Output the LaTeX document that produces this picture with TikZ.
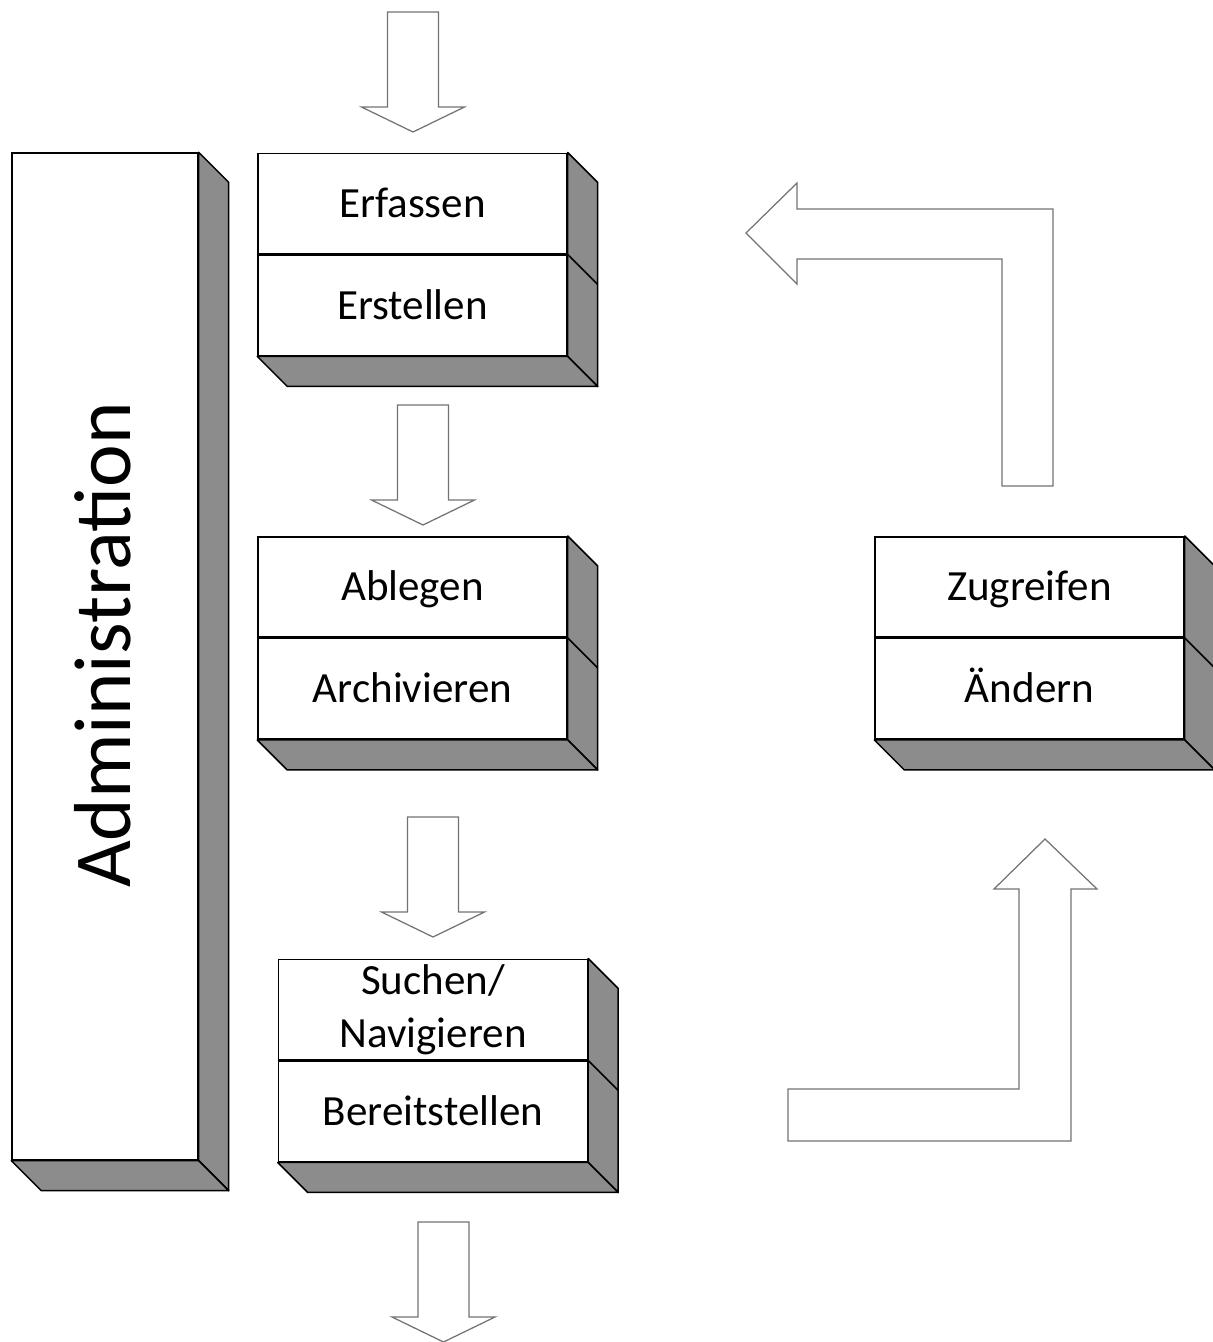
\documentclass[tikz,border=0pt]{standalone}
\usepackage{fontspec}
\setmainfont{Carlito}
\usetikzlibrary{positioning}

\tikzset{
	cell/.style={draw, line width=0.03cm, fill=white, inner sep=0pt,
		minimum width=6.18cm, minimum height=2.01cm,
		font=\fontsize{24.5}{30}\selectfont, text height=15.4pt, text depth=0pt},
	face/.style={draw, line width=0.03cm, fill=black!45, line join=round},
	flow/.style={draw=black!55, line width=0.025cm, fill=white, line join=miter}
}

\begin{document}
\begin{tikzpicture}[x=0.02cm, y=-0.02cm]
		\useasboundingbox (0,0) rectangle (1213,1342);
		% left bar
		\node[cell, minimum width=3.72cm, minimum height=20.14cm] (admin) at (105,656.5) {};
		\node[rotate=90, font=\fontsize{46}{50}\selectfont] (admintext) at (102.5,645) {Administration};
		% boxes
		\node[cell] (erfassen) at (412.5,203.5) {Erfassen};
		\node[cell, below=0pt of erfassen] (erstellen) {Erstellen};
		\node[cell] (ablegen) at (412.5,587) {Ablegen};
		\node[cell, below=0pt of ablegen] (archivieren) {Archivieren};
		\node[cell, text height=, text depth=, align=center] (suchen) at (433,1009.5) {Suchen/\\Navigieren};
		\node[cell, below=0pt of suchen] (bereit) {Bereitstellen};
		\node[cell] (zugreifen) at (1029.5,587) {Zugreifen};
		\node[cell, below=0pt of zugreifen] (aendern) {Ändern};
		\foreach \a/\b in {admin/admin, erfassen/erstellen, ablegen/archivieren, suchen/bereit, zugreifen/aendern}{
			\draw[face] (\a.north east) -- ++(30,30) -- ([shift={(30,30)}]\b.south east) -- (\b.south east) -- cycle;
			\draw[face] (\b.south west) -- ++(30,30) -- ([shift={(30,30)}]\b.south east) -- (\b.south east) -- cycle;
			\draw[line width=0.03cm] (\a.south east) -- ++(30,30);
		}
		% down arrows
		\foreach \x/\y in {413/12, 423/405, 433/817, 443.5/1222}{
			\draw[flow] (\x-25.5,\y) -- (\x+25.5,\y) -- (\x+25.5,\y+95) -- (\x+51.5,\y+95)
				-- (\x,\y+120) -- (\x-51.5,\y+95) -- (\x-25.5,\y+95) -- cycle;
		}
		% back to the top
		\draw[flow] (746,233) -- (797,183) -- (797,209) -- (1053,209) -- (1053,486)
			-- (1002,486) -- (1002,259) -- (797,259) -- (797,284) -- cycle;
		% up to zugreifen
		\draw[flow] (1045,839) -- (1097,889) -- (1071,889) -- (1071,1141) -- (788,1141)
			-- (788,1089) -- (1019,1089) -- (1019,889) -- (994,889) -- cycle;
\end{tikzpicture}
\end{document}
